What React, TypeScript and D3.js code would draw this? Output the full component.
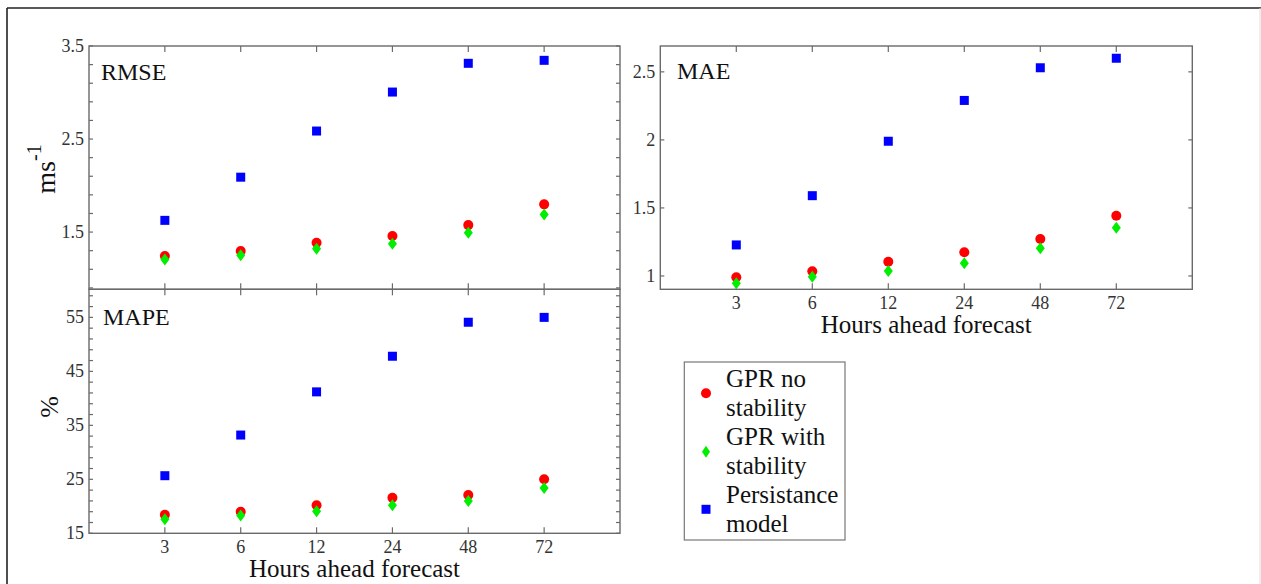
import React from "react";
import * as d3 from "d3";

const hours = ["3", "6", "12", "24", "48", "72"];

const rmseNoStab = [1.242, 1.296, 1.386, 1.457, 1.575, 1.798];
const rmseWithStab = [1.206, 1.25, 1.32, 1.375, 1.493, 1.69];
const rmsePersist = [1.626, 2.09, 2.586, 3.005, 3.314, 3.346];

const maeNoStab = [0.99, 1.034, 1.105, 1.174, 1.272, 1.443];
const maeWithStab = [0.946, 0.995, 1.037, 1.093, 1.204, 1.355];
const maePersist = [1.228, 1.59, 1.99, 2.29, 2.53, 2.6];

const mapeNoStab = [18.45, 19.0, 20.2, 21.6, 22.1, 25.0];
const mapeWithStab = [17.6, 18.3, 19.1, 20.2, 21.0, 23.4];
const mapePersist = [25.67, 33.2, 41.2, 47.8, 54.1, 55.0];

const rmseTicks = d3.range(0.9, 3.51, 0.2);
const rmseLabels = [1.5, 2.5, 3.5];
const maeTicks = [1, 1.5, 2, 2.5];
const maeLabels = [1, 1.5, 2, 2.5];
const mapeTicks = d3.range(15, 60, 2);
const mapeLabels = [15, 25, 35, 45, 55];

const legendLabels = [
  ["GPR no", "stability"],
  ["GPR with", "stability"],
  ["Persistance", "model"],
];

const FONT = "Liberation Serif, DejaVu Serif, Times New Roman, serif";
const RED = "#ff0000";
const GREEN = "#00ee00";
const BLUE = "#0000ff";
const AXIS = "#6a6a6a";
const TXT = "#333";

type PanelProps = {
  x0: number; x1: number; y0: number; y1: number;
  domain: [number, number];
  ticks: number[]; labels: number[];
  fmt: (v: number) => string;
  noStab: number[]; withStab: number[]; persist: number[];
  title: string; titleX: number; titleY: number;
  showX: boolean;
};

function Panel(p: PanelProps) {
  const x = d3.scaleLinear().domain([0, hours.length + 1]).range([p.x0, p.x1]);
  const y = d3.scaleLinear().domain(p.domain).range([p.y1, p.y0]);
  const tl = 4;
  const diamond = (cx: number, cy: number) =>
    `M${cx},${cy - 6}L${cx + 4.5},${cy}L${cx},${cy + 6}L${cx - 4.5},${cy}Z`;
  return (
    <g>
      <rect x={p.x0} y={p.y0} width={p.x1 - p.x0} height={p.y1 - p.y0} fill="white" stroke={AXIS} strokeWidth={1.4} />
      {p.ticks.map((t, i) => (
        <g key={"yt" + i}>
          <line x1={p.x0} x2={p.x0 + tl} y1={y(t)} y2={y(t)} stroke={AXIS} strokeWidth={1.2} />
          <line x1={p.x1} x2={p.x1 - tl} y1={y(t)} y2={y(t)} stroke={AXIS} strokeWidth={1.2} />
        </g>
      ))}
      {p.labels.map((t, i) => (
        <text key={"yl" + i} x={p.x0 - 5} y={y(t)} dy="0.33em" textAnchor="end" fontSize={18} fill={TXT} style={{ fontFamily: FONT }}>
          {p.fmt(t)}
        </text>
      ))}
      {hours.map((h, i) => (
        <g key={"xt" + i}>
          <line x1={x(i + 1)} x2={x(i + 1)} y1={p.y0} y2={p.y0 + 6} stroke={AXIS} strokeWidth={1.2} />
          <line x1={x(i + 1)} x2={x(i + 1)} y1={p.y1} y2={p.y1 - 6} stroke={AXIS} strokeWidth={1.2} />
          {p.showX && (
            <text x={x(i + 1)} y={p.y1 + 20} textAnchor="middle" fontSize={18} fill={TXT} style={{ fontFamily: FONT }}>
              {h}
            </text>
          )}
        </g>
      ))}
      {p.showX && (
        <text x={(p.x0 + p.x1) / 2} y={p.y1 + 44} textAnchor="middle" fontSize={25} fill="#111" style={{ fontFamily: FONT }}>
          Hours ahead forecast
        </text>
      )}
      <text x={p.titleX} y={p.titleY} fontSize={24} fill="#111" style={{ fontFamily: FONT }}>{p.title}</text>
      {p.persist.map((v, i) => (
        <rect key={"b" + i} x={x(i + 1) - 4.5} y={y(v) - 4.5} width={9} height={9} fill={BLUE} />
      ))}
      {p.noStab.map((v, i) => (
        <circle key={"r" + i} cx={x(i + 1)} cy={y(v)} r={5} fill={RED} />
      ))}
      {p.withStab.map((v, i) => (
        <path key={"g" + i} d={diamond(x(i + 1), y(v))} fill={GREEN} />
      ))}
    </g>
  );
}

export default function App() {
  const f1 = (v: number) => String(v);
  return (
    <div style={{ position: "absolute", left: 0, top: 0 }}>
      <svg width={1261} height={584} style={{ display: "block", background: "white", fontFamily: FONT }}>
        <line x1={7} x2={1261} y1={8} y2={8} stroke="#222" strokeWidth={1.6} />
        <line x1={7} x2={7} y1={8} y2={584} stroke="#222" strokeWidth={1.6} />
        <line x1={1260} x2={1260} y1={8} y2={584} stroke="#ddd" strokeWidth={1} />
        <Panel x0={89} x1={620} y0={46} y1={289.3} domain={[0.885, 3.5]} ticks={rmseTicks} labels={rmseLabels}
          fmt={f1} noStab={rmseNoStab} withStab={rmseWithStab} persist={rmsePersist}
          title="RMSE" titleX={101} titleY={80} showX={false} />
        <Panel x0={89} x1={620} y0={289.3} y1={533.3} domain={[15, 60.2]} ticks={mapeTicks} labels={mapeLabels}
          fmt={f1} noStab={mapeNoStab} withStab={mapeWithStab} persist={mapePersist}
          title="MAPE" titleX={103} titleY={325} showX={true} />
        <Panel x0={660.3} x1={1192.3} y0={46} y1={289.3} domain={[0.902, 2.69]} ticks={maeTicks} labels={maeLabels}
          fmt={f1} noStab={maeNoStab} withStab={maeWithStab} persist={maePersist}
          title="MAE" titleX={677} titleY={79} showX={true} />
        <text transform="translate(55,169) rotate(-90)" textAnchor="middle" fontSize={28} fill="#111" style={{ fontFamily: FONT }}>
          ms<tspan fontSize={20} dy={-14}>-1</tspan>
        </text>
        <text transform="translate(58,407) rotate(-90)" textAnchor="middle" fontSize={26} fill="#111" style={{ fontFamily: FONT }}>
          %
        </text>
        <g>
          <rect x={684.3} y={362} width={160.7} height={178} fill="white" stroke="#777" strokeWidth={1.2} />
          <circle cx={706} cy={393.3} r={5} fill={RED} />
          <path d={`M706,${451.7 - 6}L710,451.7L706,${451.7 + 6}L702,451.7Z`} fill={GREEN} />
          <rect x={706 - 4.5} y={509.3 - 4.5} width={9} height={9} fill={BLUE} />
          {legendLabels.map((lines, i) =>
            lines.map((s, j) => (
              <text key={i + "-" + j} x={726} y={387 + i * 58 + j * 29} fontSize={25} fill="#111" style={{ fontFamily: FONT }}>
                {s}
              </text>
            ))
          )}
        </g>
      </svg>
    </div>
  );
}
